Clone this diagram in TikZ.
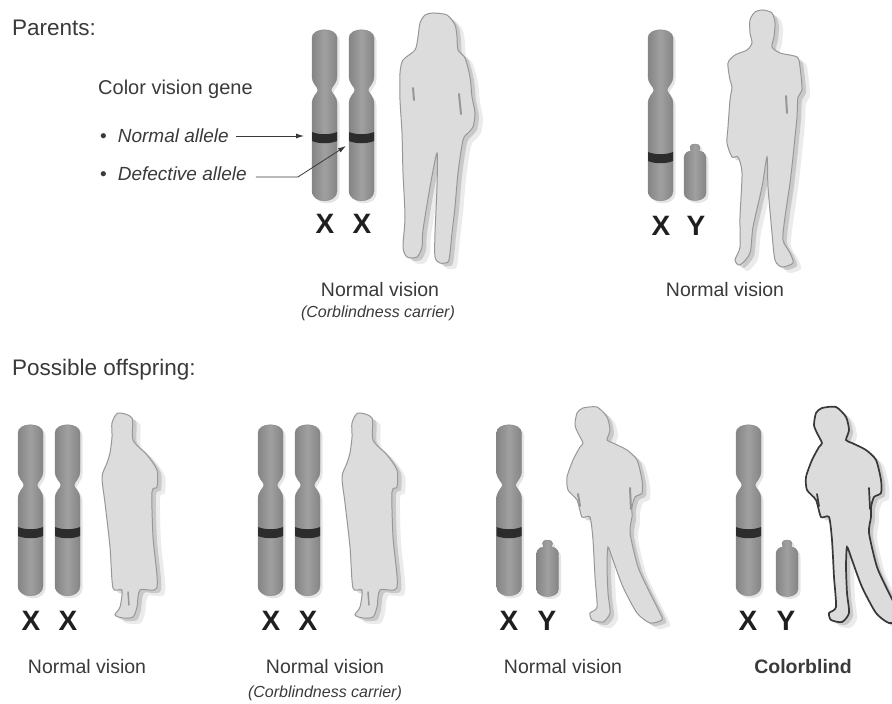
\documentclass[tikz,border=0pt]{standalone}
\usepackage{fontspec}
\setmainfont{Liberation Sans}
\usetikzlibrary{arrows.meta,
	positioning}

\definecolor{txt}{HTML}{3A3A3A}
\definecolor{chromdark}{HTML}{858585}
\definecolor{chromlight}{HTML}{A0A0A0}
\definecolor{band}{HTML}{2C2C2C}
\definecolor{figfill}{HTML}{DCDCDC}
\definecolor{figline}{HTML}{979797}

\tikzset{
	heading/.style={anchor=west, inner sep=0pt, text=txt, font=\fontsize{22.5}{26}\selectfont},
	caption/.style={inner sep=0pt, text=txt, font=\fontsize{19.5}{23}\selectfont},
	note/.style={inner sep=0pt, text=txt, font=\itshape\fontsize{16}{19}\selectfont},
	sexlabel/.style={inner sep=0pt, text=black!88, font=\bfseries\fontsize{28}{32}\selectfont},
	pointer/.style={draw=txt, line width=0.8pt, -{Latex[length=8pt,width=5pt]}},
	chromfill/.style={left color=chromdark, right color=chromdark, middle color=chromlight,
		draw=chromdark, line width=0.4pt,
		preaction={fill=black, opacity=0.1, transform canvas={shift={(2.5pt,-2.5pt)}}}},
	person/.style={fill=figfill, draw=figline, line width=1pt,
		preaction={fill=black, opacity=0.08, transform canvas={shift={(8pt,-6pt)}}},
		preaction={fill=black, opacity=0.14, transform canvas={shift={(4pt,-3pt)}}}},
	slit/.style={draw=figline, line width=2pt, line cap=round},
	% X chromosome, #1 = depth of the gene band below the top
	xchrom/.pic={
		\path[chromfill] (-12.5,10) .. controls (-12.5,-1) and (12.5,-1) .. (12.5,10)
			-- (12.5,48) .. controls (12.5,56) and (6.5,59) .. (6.5,62)
			.. controls (6.5,65) and (12.5,68) .. (12.5,76)
			-- (12.5,163) .. controls (12.5,176) and (-12.5,176) .. (-12.5,163)
			-- (-12.5,76) .. controls (-12.5,68) and (-6.5,65) .. (-6.5,62)
			.. controls (-6.5,59) and (-12.5,56) .. (-12.5,48) -- cycle;
		\fill[band] (-12.5,#1) .. controls (-5,#1+3) and (5,#1+3) .. (12.5,#1)
			-- (12.5,#1+9) .. controls (5,#1+12) and (-5,#1+12) .. (-12.5,#1+9) -- cycle;
	},
	ychrom/.pic={
		\path[chromfill] (-5,3) .. controls (-5,-1) and (5,-1) .. (5,3)
			.. controls (5,5) and (4,6) .. (4,7)
			.. controls (11,8) and (11,12) .. (11,17)
			-- (11,49) .. controls (11,59) and (-11,59) .. (-11,49)
			-- (-11,17) .. controls (-11,12) and (-11,8) .. (-4,7)
			.. controls (-4,6) and (-5,5) .. (-5,3) -- cycle;
	},
	girl/.pic={
		\draw[person] plot[smooth cycle, tension=0.45] coordinates {
			(18,13) (32,18) (33,40) (47,55) (57,70) (57,87) (52,92) (53,137) (57,187)
			(40,190) (37,207) (33,217) (23,218) (15,215) (20,207) (22,190) (13,188)
			(10,147) (5,103) (2,77) (7,63) (10,53) (12,37) (12,23)};
		\draw[slit, line width=1.5pt] (28,192) -- (29,205);
	},
	boy/.pic={
		\draw[person, #1] plot[smooth cycle, tension=0.4] coordinates {
			(23,8) (37,7) (47,17) (50,30) (47,40) (53,43) (67,50) (77,60) (82,80) (82,93)
			(75,97) (72,107) (72,117) (70,133) (78,167) (90,193) (100,213) (102,220)
			(90,223) (77,213) (63,187) (53,160) (48,147) (47,167) (48,193) (50,213)
			(43,222) (32,220) (30,213) (37,207) (35,177) (33,140) (30,117) (22,117)
			(17,100) (8,90) (7,77) (13,60) (20,47) (23,43) (18,33) (15,25) (17,13)};
		\draw[slit, #1] (18,94) -- (20,106);
		\draw[slit, #1] (70,88) -- (71,109);
	},
	boy/.default={}
}

\begin{document}
\begin{tikzpicture}[x=1pt, y=-1pt]
	\fill[white] (0,0) rectangle (892,704);
	\useasboundingbox (0,0) rectangle (892,704);

	% parents
	\node[heading] (parents) at (12,28) {Parents:};

	\node[anchor=west, inner sep=0pt, text=txt, font=\fontsize{20}{24}\selectfont] (gene) at (98,89) {Color vision gene};
	\node[anchor=west, inner sep=0pt, text=txt, font=\fontsize{19}{23}\selectfont] (normal) at (100,136)
		{\textbullet\hspace{11pt}\itshape Normal allele};
	\node[anchor=west, inner sep=0pt, text=txt, font=\fontsize{19}{23}\selectfont] (defect) at (100,174)
		{\textbullet\hspace{11pt}\itshape Defective allele};

	\pic at (324.5,28) {xchrom=104};
	\pic at (361.5,28) {xchrom=104};
	\coordinate (allele1) at (304,136);
	\coordinate (allele2) at (346,146);
	\draw[pointer] ([xshift=7pt]normal.east) -- (allele1);
	\draw[pointer] ([xshift=9pt,yshift=-3pt]defect.east) -- ++(42,0) -- (allele2);
	\node[sexlabel] (mx1) at (325,224) {X};
	\node[sexlabel] (mx2) at (362,224) {X};

	% mother
	\draw[person] plot[smooth cycle, tension=0.45] coordinates {
		(433,13) (447,15) (455,25) (457,37) (458,50) (465,58) (470,77) (472,97) (475,113)
		(473,127) (468,133) (463,140) (458,173) (455,207) (452,233) (450,253) (448,262)
		(440,263) (435,257) (435,233) (437,187) (437,153) (430,187) (423,230) (422,247)
		(417,257) (407,257) (403,247) (405,217) (403,173) (402,133) (400,100) (400,73)
		(403,60) (415,50) (418,37) (420,23) (425,15)};
	\draw[slit] (413,88) -- (414,100);
	\draw[slit] (459,94) -- (461,114);

	\node[caption] (mvision) at (380,290) {Normal vision};
	\node[note] (mcarrier) at (378,313) {(Corblindness carrier)};

	% father
	\pic at (660.5,28) {xchrom=124};
	\pic at (695,144) {ychrom};
	\node[sexlabel] (fx) at (661,226) {X};
	\node[sexlabel] (fy) at (696,226) {Y};

	\draw[person] plot[smooth cycle, tension=0.45] coordinates {
		(763,10) (772,13) (775,23) (774,37) (772,47) (780,53) (797,57) (800,67) (802,90)
		(798,97) (797,117) (795,137) (793,157) (790,183) (785,217) (783,240) (790,253)
		(793,263) (782,267) (775,260) (772,233) (768,187) (767,157) (762,187) (753,227)
		(750,253) (740,265) (735,260) (740,247) (740,217) (742,173) (738,157) (732,157)
		(727,143) (728,127) (730,100) (732,87) (730,80) (728,63) (735,55) (747,50)
		(752,43) (750,33) (750,20) (755,12)};
	\draw[slit] (786,96) -- (787,113);

	\node[caption] (fvision) at (725,290) {Normal vision};

	% offspring
	\node[heading] (offspring) at (12,370) {Possible offspring:};

	\pic at (30.5,423) {xchrom=104};
	\pic at (67.5,423) {xchrom=104};
	\pic at (100,400) {girl};
	\node[sexlabel] (ax1) at (31,621) {X};
	\node[sexlabel] (ax2) at (68,621) {X};
	\node[caption] (avision) at (87,667) {Normal vision};

	\pic at (270.5,423) {xchrom=104};
	\pic at (307.5,423) {xchrom=104};
	\pic at (340,400) {girl};
	\node[sexlabel] (bx1) at (271,621) {X};
	\node[sexlabel] (bx2) at (308,621) {X};
	\node[caption] (bvision) at (325,667) {Normal vision};
	\node[note] (bcarrier) at (325,693) {(Corblindness carrier)};

	\pic at (509,423) {xchrom=104};
	\pic at (547.5,540) {ychrom};
	\pic at (560,400) {boy};
	\node[sexlabel] (cx) at (509,621) {X};
	\node[sexlabel] (cy) at (547,621) {Y};
	\node[caption] (cvision) at (563,667) {Normal vision};

	\pic at (748.5,423) {xchrom=104};
	\pic at (787,540) {ychrom};
	\pic at (799,400) {boy={draw=black!78, line width=1.7pt}};
	\node[sexlabel] (dx) at (748,621) {X};
	\node[sexlabel] (dy) at (786,621) {Y};
	\node[caption, font=\bfseries\fontsize{19.5}{23}\selectfont] (dblind) at (803,667) {Colorblind};
\end{tikzpicture}
\end{document}
